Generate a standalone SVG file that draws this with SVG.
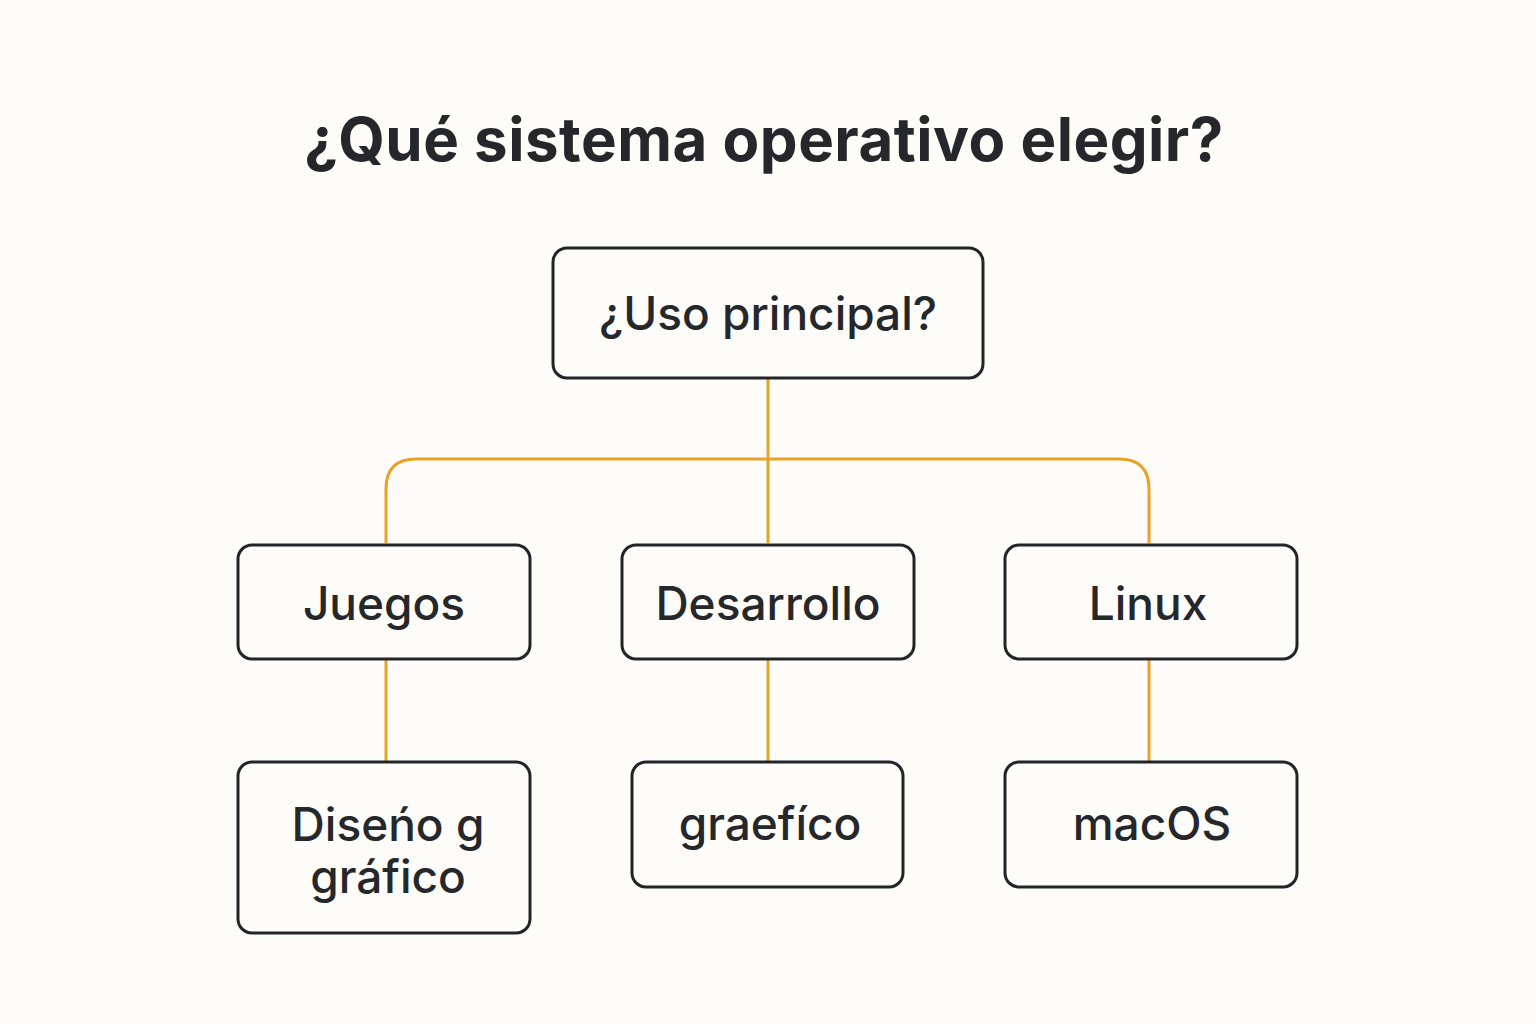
<svg xmlns="http://www.w3.org/2000/svg" width="1536" height="1024" viewBox="0 0 1536 1024">
<style>
.box{fill:#fdfcf8;stroke:#222428;stroke-width:3}
.lbl{font-family:Inter,"Noto Sans",sans-serif;font-size:46px;font-weight:500;fill:#25272b;text-anchor:middle}
.title{font-family:Inter,"Noto Sans",sans-serif;font-size:60px;font-weight:700;fill:#25272b;text-anchor:middle;letter-spacing:0.5px}
.con{fill:none;stroke:#e8a22a;stroke-width:3}
</style>
<rect width="1536" height="1024" fill="#fdfcf8"/>
<text class="title" x="764" y="161">¿Qué sistema operativo elegir?</text>
<g id="connectors">
<path class="con" d="M768 378 V543"/>
<path class="con" d="M386 543 V489 Q386 459 416 459 H1119 Q1149 459 1149 489 V543"/>
<path class="con" d="M386 659 V762"/>
<path class="con" d="M768 659 V762"/>
<path class="con" d="M1149 659 V762"/>
</g>
<g id="root"><rect class="box" x="553" y="248" width="430" height="130" rx="14"/><text class="lbl" x="768" y="330">¿Uso principal?</text></g>
<g id="juegos"><rect class="box" x="238" y="545" width="292" height="114" rx="14"/><text class="lbl" x="384" y="620">Juegos</text></g>
<g id="desarrollo"><rect class="box" x="622" y="545" width="292" height="114" rx="14"/><text class="lbl" x="768" y="620">Desarrollo</text></g>
<g id="linux"><rect class="box" x="1005" y="545" width="292" height="114" rx="14"/><text class="lbl" x="1148" y="620">Linux</text></g>
<g id="diseno"><rect class="box" x="238" y="762" width="292" height="171" rx="14"/><text class="lbl" x="388" y="841">Diseńo g</text><text class="lbl" x="388" y="893">gráfico</text></g>
<g id="graefico"><rect class="box" x="632" y="762" width="271" height="125" rx="14"/><text class="lbl" x="770" y="840">graefíco</text></g>
<g id="macos"><rect class="box" x="1005" y="762" width="292" height="125" rx="14"/><text class="lbl" x="1152" y="840">macOS</text></g>
</svg>
